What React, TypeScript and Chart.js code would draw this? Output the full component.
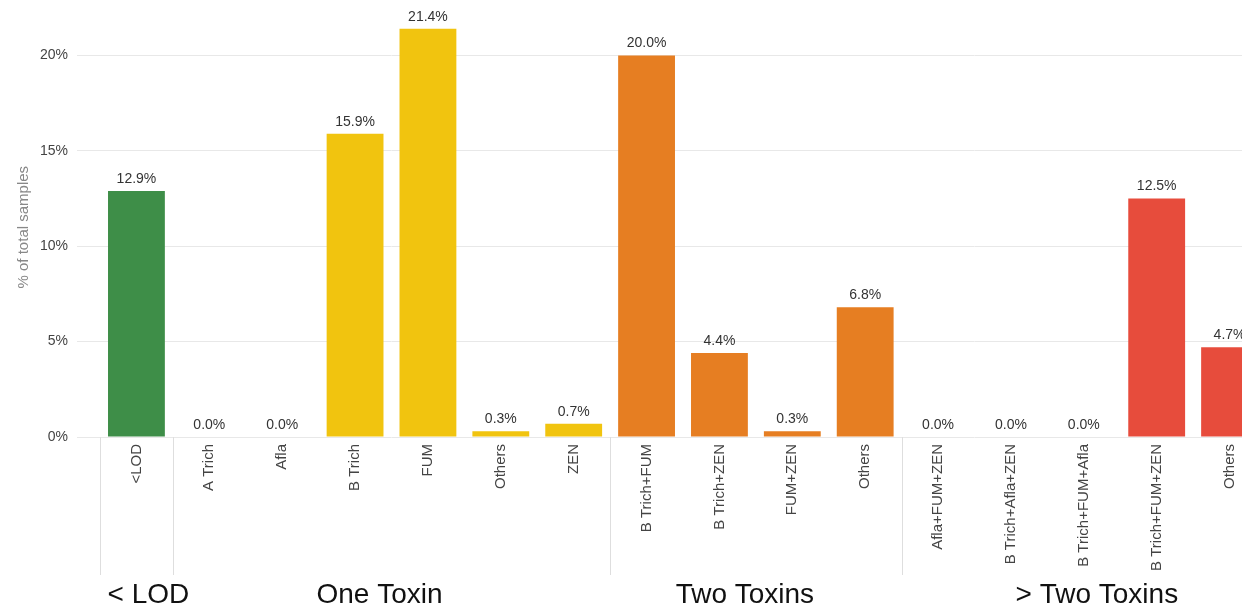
import React, { useEffect, useRef } from "react";
import { Chart, registerables } from "chart.js";

Chart.register(...registerables);

const categories = [
  "<LOD",
  "A Trich", "Afla", "B Trich", "FUM", "Others", "ZEN",
  "B Trich+FUM", "B Trich+ZEN", "FUM+ZEN", "Others",
  "Afla+FUM+ZEN", "B Trich+Afla+ZEN", "B Trich+FUM+Afla", "B Trich+FUM+ZEN", "Others",
];
const values = [12.9, 0.0, 0.0, 15.9, 21.4, 0.3, 0.7, 20.0, 4.4, 0.3, 6.8, 0.0, 0.0, 0.0, 12.5, 4.7];
const groupNames = ["< LOD", "One Toxin", "Two Toxins", "> Two Toxins"];
const groupSizes = [1, 6, 4, 5];
const groupColors = ["#3e8e48", "#f1c40f", "#e67e22", "#e74c3c"];
const yTickStep = 5;
const yMax = 22;

const FONT = "Arial, 'Liberation Sans', sans-serif";

const barColors: string[] = [];
groupSizes.forEach((n, g) => {
  for (let i = 0; i < n; i++) barColors.push(groupColors[g]);
});

const groupLabelShift = [12, -12, -11, 13];

const overlayPlugin = {
  id: "overlay",
  afterDatasetsDraw(chart: any) {
    const ctx = chart.ctx;
    const meta = chart.getDatasetMeta(0);
    ctx.save();
    ctx.font = `14px ${FONT}`;
    ctx.fillStyle = "#333";
    ctx.textAlign = "center";
    ctx.textBaseline = "bottom";
    meta.data.forEach((bar: any, i: number) => {
      ctx.fillText(values[i].toFixed(1) + "%", bar.x, bar.y - 5);
    });
    ctx.restore();
  },
  afterDraw(chart: any) {
    const ctx = chart.ctx;
    const x = chart.scales.x;
    const area = chart.chartArea;
    const step = x.getPixelForValue(1) - x.getPixelForValue(0);
    ctx.save();
    ctx.strokeStyle = "#dedede";
    ctx.lineWidth = 1;
    let start = 0;
    groupSizes.forEach((n, g) => {
      const left = x.getPixelForValue(start) - step / 2;
      const right = x.getPixelForValue(start + n - 1) + step / 2;
      ctx.beginPath();
      ctx.moveTo(Math.round(left) + 0.5, area.bottom);
      ctx.lineTo(Math.round(left) + 0.5, 575);
      ctx.stroke();
      if (g === groupSizes.length - 1) {
        ctx.beginPath();
        ctx.moveTo(Math.round(right) + 0.5, area.bottom);
        ctx.lineTo(Math.round(right) + 0.5, 575);
        ctx.stroke();
      }
      ctx.font = `28px ${FONT}`;
      ctx.fillStyle = "#111";
      ctx.textAlign = "center";
      ctx.textBaseline = "alphabetic";
      ctx.fillText(groupNames[g], (left + right) / 2 + groupLabelShift[g], 603);
      start += n;
    });
    ctx.restore();
  },
};

export default function App() {
  const ref = useRef<HTMLCanvasElement | null>(null);
  useEffect(() => {
    if (!ref.current) return;
    const chart = new Chart(ref.current, {
      type: "bar",
      data: {
        labels: categories,
        datasets: [
          {
            data: values,
            backgroundColor: barColors,
            borderWidth: 0,
            barPercentage: 0.78,
            categoryPercentage: 1.0,
          },
        ],
      },
      options: {
        responsive: false,
        animation: false,
        layout: { padding: { left: 0, right: 4, top: 0, bottom: 0 } },
        plugins: {
          legend: { display: false },
          tooltip: { enabled: false },
        },
        scales: {
          x: {
            grid: { display: false, drawTicks: false },
            border: { display: false },
            ticks: {
              minRotation: 90,
              maxRotation: 90,
              autoSkip: false,
              padding: 7,
              color: "#444",
              font: { family: FONT, size: 15 },
            },
            afterFit(scale: any) {
              scale.height = 171;
            },
          },
          y: {
            min: 0,
            max: yMax,
            border: { display: false },
            grid: { color: "#e8e8e8", tickLength: 23 },
            ticks: {
              stepSize: yTickStep,
              padding: 9,
              color: "#444",
              font: { family: FONT, size: 14 },
              callback: (v: any) => v + "%",
            },
            afterBuildTicks(scale: any) {
              scale.ticks = scale.ticks.filter((t: any) => t.value % yTickStep === 0);
            },
            afterFit(scale: any) {
              scale.width = 100;
            },
            title: {
              display: true,
              text: "% of total samples",
              color: "#888",
              font: { family: FONT, size: 15 },
              padding: { top: 15, bottom: 0 },
            },
          },
        },
      },
      plugins: [overlayPlugin],
    });
    return () => chart.destroy();
  }, []);
  return (
    <div
      style={{
        position: "absolute",
        left: 0,
        top: 0,
        width: 1242,
        height: 608,
        overflow: "hidden",
        background: "#fff",
      }}
    >
      <canvas ref={ref} width={1270} height={608} style={{ display: "block" }} />
    </div>
  );
}
